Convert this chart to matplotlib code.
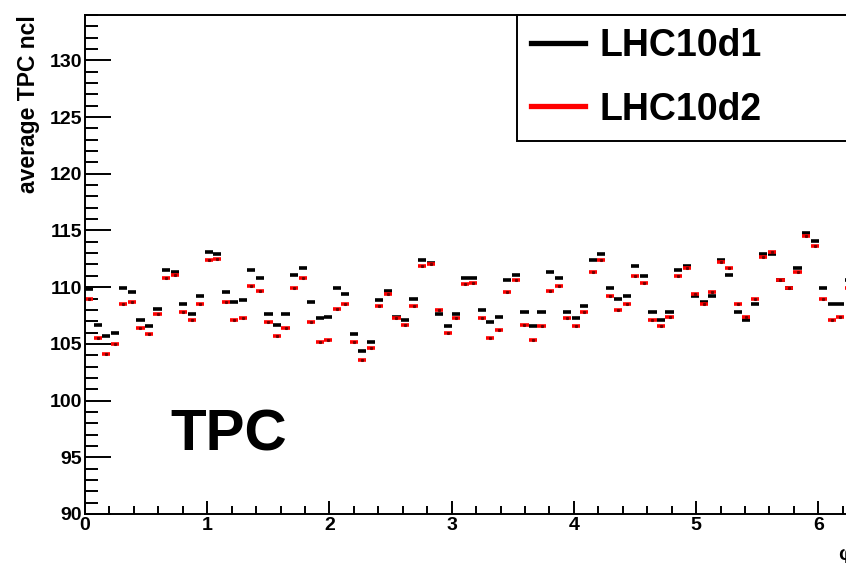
import numpy as np
import matplotlib
matplotlib.use("Agg")
from matplotlib import pyplot as plt
from matplotlib.lines import Line2D
from matplotlib.ticker import MultipleLocator

plt.rcParams['font.family'] = ['Liberation Sans', 'DejaVu Sans']
plt.rcParams['font.weight'] = 'bold'
plt.rcParams['axes.labelweight'] = 'bold'

# average TPC clusters per phi bin (90 bins over 0..2pi)
n_bins = 90
lhc10d1 = [109.8, 106.7, 105.7, 106.0, 109.9, 109.6, 107.1, 106.6, 108.1, 111.5,
           111.3, 108.5, 107.6, 109.2, 113.1, 112.9, 109.6, 108.7, 108.9, 111.5,
           110.8, 107.6, 106.7, 107.6, 111.1, 111.7, 108.7, 107.3, 107.4, 109.9,
           109.4, 105.9, 104.4, 105.2, 108.9, 109.7, 107.4, 107.1, 109.0, 112.4,
           112.1, 107.6, 106.6, 107.6, 110.8, 110.8, 108.0, 106.9, 107.4, 110.6,
           111.1, 107.8, 106.6, 107.8, 111.3, 110.8, 107.8, 107.3, 108.3, 112.4,
           112.9, 109.9, 109.0, 109.2, 111.9, 111.0, 107.8, 107.1, 107.8, 111.5,
           111.9, 109.2, 108.7, 109.2, 112.4, 111.1, 107.8, 107.1, 108.5, 112.9,
           112.9, 110.6, 109.9, 111.7, 114.8, 114.1, 109.9, 108.5, 108.5, 110.6]
lhc10d2 = [109.0, 105.5, 104.1, 104.95, 108.5, 108.7, 106.4, 105.9, 107.6, 110.8,
           111.1, 107.8, 107.1, 108.5, 112.4, 112.5, 108.7, 107.1, 107.3, 110.1,
           109.7, 106.9, 105.7, 106.4, 109.9, 110.8, 106.9, 105.2, 105.3, 108.1,
           108.5, 105.2, 103.6, 104.6, 108.3, 109.4, 107.3, 106.7, 108.3, 111.9,
           112.0, 108.0, 106.0, 107.3, 110.3, 110.4, 107.3, 105.5, 106.2, 109.6,
           110.6, 106.7, 105.3, 106.6, 109.7, 110.1, 107.3, 106.6, 107.8, 111.3,
           112.4, 109.2, 108.0, 108.5, 111.0, 110.4, 107.1, 106.6, 107.4, 111.0,
           111.7, 109.4, 108.5, 109.6, 112.2, 111.7, 108.5, 107.4, 109.0, 112.7,
           113.1, 110.6, 109.9, 111.3, 114.5, 113.6, 109.0, 107.1, 107.4, 109.9]
labels = ["LHC10d1", "LHC10d2"]

edges = np.linspace(0, 2 * np.pi, n_bins + 1)
centers = 0.5 * (edges[:-1] + edges[1:])
half_w = 0.5 * (edges[1] - edges[0])

fig = plt.figure(figsize=(8.46, 5.63), dpi=100)
ax = fig.add_axes([85 / 846, 49 / 563, 768 / 846, 499 / 563])

ax.errorbar(centers, lhc10d1, xerr=half_w * 0.95, fmt='none', ecolor='black',
            elinewidth=2.6)
ax.errorbar(centers, lhc10d2, xerr=half_w * 0.95, fmt='none', ecolor='red',
            elinewidth=2.6)
ax.plot(centers, lhc10d2, ls='none', marker='s', ms=1.2, color='#700000')

ax.set_xlim(0, 2 * np.pi)
ax.set_ylim(90, 134)
ax.xaxis.set_major_locator(MultipleLocator(1))
ax.xaxis.set_minor_locator(MultipleLocator(0.2))
ax.yaxis.set_major_locator(MultipleLocator(5))
ax.yaxis.set_minor_locator(MultipleLocator(1))
ax.tick_params(axis='both', which='both', direction='in', width=1.4,
               labelsize=14)
ax.tick_params(axis='y', which='major', length=18.5, pad=2)
ax.tick_params(axis='y', which='minor', length=9)
ax.tick_params(axis='x', which='major', length=9.5, pad=2)
ax.tick_params(axis='x', which='minor', length=5.5)
for sp in ax.spines.values():
    sp.set_linewidth(1.4)

ax.set_ylabel("average TPC ncl", loc='top', fontsize=16.5, labelpad=7)
ax.text(1.0, -0.062, "\u03c6", transform=ax.transAxes, ha='right', va='top',
        fontsize=15)

ax.text(0.111, 0.128, "TPC", transform=ax.transAxes, fontsize=42,
        fontweight='bold', va='baseline', ha='left')

handles = [Line2D([], [], color='black', lw=3.8),
           Line2D([], [], color='red', lw=3.8)]
leg = ax.legend(handles, labels, loc='upper left',
                bbox_to_anchor=(0.5625, 0.0, 0.46, 1.0), mode='expand',
                borderaxespad=0, fancybox=False, framealpha=1,
                edgecolor='black', handlelength=1.45,
                handletextpad=0.4, borderpad=0.36, labelspacing=0.72,
                prop={'weight': 'bold', 'size': 27})
leg.get_frame().set_linewidth(1.4)

fig.savefig("out.png", dpi=100)
